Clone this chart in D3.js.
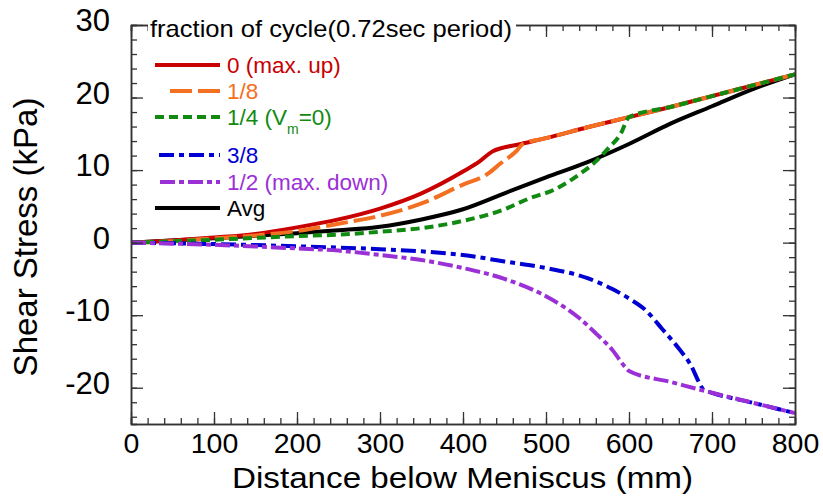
<!DOCTYPE html>
<html>
<head>
<meta charset="utf-8">
<script src="https://cdn.jsdelivr.net/npm/d3@7"></script>
<style>
  body { margin: 0; background: #fff; }
  svg { font-family: "Liberation Sans", Arial, sans-serif; }
</style>
</head>
<body>
<div id="chart"></div>
<script>
width = 823
height = 496

// distance below meniscus (mm) and shear stress (kPa), one pair per phase
var dist0  = [0, 50, 100, 150, 200, 250, 300, 350, 400, 420, 436, 470, 500, 550, 600, 650, 700, 750, 800]
var shear0 = [0, 0.3, 0.7, 1.2, 2.1, 3.2, 4.7, 6.8, 9.8, 11.2, 12.6, 13.6, 14.4, 15.9, 17.3, 18.7, 20.2, 21.7, 23.2]

var dist18  = [0, 50, 100, 150, 200, 250, 300, 350, 400, 430, 445, 465, 472, 500, 550, 600, 650, 700, 750, 800]
var shear18 = [0, 0.2, 0.6, 1.0, 1.6, 2.6, 3.7, 5.4, 8.0, 9.5, 10.9, 12.7, 13.6, 14.4, 15.9, 17.3, 18.7, 20.2, 21.7, 23.2]

var dist14  = [0, 100, 200, 250, 300, 350, 400, 450, 480, 510, 540, 560, 575, 590, 600, 650, 700, 750, 800]
var shear14 = [0, 0.4, 0.9, 1.1, 1.5, 2.0, 3.0, 4.6, 6.1, 7.3, 9.4, 11.2, 13.0, 15.0, 17.3, 18.7, 20.2, 21.7, 23.2]

var dist38  = [0, 100, 200, 300, 350, 400, 450, 500, 550, 580, 600, 620, 640, 660, 675, 685, 690, 700, 750, 800]
var shear38 = [0, -0.2, -0.5, -0.9, -1.2, -1.7, -2.6, -3.5, -4.9, -6.4, -7.7, -9.3, -11.9, -14.6, -17.0, -19.4, -20.3, -20.7, -22.1, -23.5]

var dist12  = [0, 100, 200, 250, 300, 350, 400, 450, 500, 540, 560, 580, 595, 600, 650, 700, 750, 800]
var shear12 = [0, -0.3, -0.8, -1.1, -1.7, -2.4, -3.5, -5.0, -7.4, -10.4, -12.5, -14.8, -17.1, -17.7, -19.2, -20.7, -22.1, -23.5]

var distAvg  = [0, 100, 200, 250, 300, 350, 400, 450, 500, 550, 600, 650, 700, 750, 800]
var shearAvg = [0, 0.6, 1.3, 1.7, 2.2, 3.2, 4.6, 6.8, 9.0, 11.1, 13.6, 16.4, 18.8, 21.2, 23.2]

var xTicks = [0, 100, 200, 300, 400, 500, 600, 700, 800]
var yTicks = [-20, -10, 0, 10, 20, 30]

var margin = {left: 131, top: 25, right: 28, bottom: 72}
var w = width - margin.left - margin.right
var h = height - margin.top - margin.bottom

let svg = d3.select("#chart")
  .append("svg")
  .attr("width", width)
  .attr("height", height)

var x = d3.scaleLinear().domain([0, 800]).range([0, w])
var y = d3.scaleLinear().domain([-25, 30]).range([h, 0])

var g = svg.append("g").attr("transform", `translate(${margin.left}, ${margin.top})`)

// series, drawn in this order so later ones sit on top
var series = [
  {name: "avg",  xs: distAvg, ys: shearAvg, color: "#000000", dash: null},
  {name: "0",    xs: dist0,   ys: shear0,   color: "#c80000", dash: null},
  {name: "1/8",  xs: dist18,  ys: shear18,  color: "#f36f21", dash: "22,6"},
  {name: "1/4",  xs: dist14,  ys: shear14,  color: "#118a11", dash: "9,5"},
  {name: "3/8",  xs: dist38,  ys: shear38,  color: "#0000d2", dash: "15,5,5,5"},
  {name: "1/2",  xs: dist12,  ys: shear12,  color: "#9b30d6", dash: "15,4,5,4"}
]

var line = d3.line()
  .x(d => x(d[0]))
  .y(d => y(d[1]))
  .curve(d3.curveMonotoneX)

for (s of series) {
  g.append("path")
    .datum(s.xs.map((v, i) => [v, s.ys[i]]))
    .attr("fill", "none")
    .attr("stroke", s.color)
    .attr("stroke-width", 4)
    .attr("stroke-dasharray", s.dash)
    .attr("d", line)
}

// axes: inward ticks on all four sides
var axisColor = "#333"
function minorVals(lo, hi, step) { return d3.range(lo, hi + 0.001, step) }

function styleAxis(sel) {
  sel.select(".domain").attr("stroke", axisColor).attr("stroke-width", 1.5)
  sel.selectAll(".tick line").attr("stroke", axisColor).attr("stroke-width", 1.3)
}

var fmt = d => String(d)

g.append("g").attr("transform", `translate(0, ${h})`)
  .call(d3.axisBottom(x).tickValues(minorVals(0, 800, 20)).tickSize(-6).tickFormat(""))
  .call(styleAxis)
g.append("g").attr("transform", `translate(0, ${h})`)
  .call(d3.axisBottom(x).tickValues(xTicks).tickSizeInner(-12).tickSizeOuter(0).tickPadding(9).tickFormat(fmt))
  .call(styleAxis)
  .selectAll("text").attr("font-size", 28.5).attr("fill", "#000").attr("font-family", "Liberation Sans, Arial")

g.append("g")
  .call(d3.axisTop(x).tickValues(minorVals(0, 800, 20)).tickSize(-6).tickFormat(""))
  .call(styleAxis)
g.append("g")
  .call(d3.axisTop(x).tickValues(xTicks).tickSizeInner(-12).tickSizeOuter(0).tickFormat(""))
  .call(styleAxis)

g.append("g")
  .call(d3.axisLeft(y).tickValues(minorVals(-24, 30, 2)).tickSize(-6).tickFormat(""))
  .call(styleAxis)
g.append("g")
  .call(d3.axisLeft(y).tickValues(yTicks).tickSizeInner(-12).tickSizeOuter(0).tickPadding(21).tickFormat(fmt))
  .call(styleAxis)
  .selectAll("text").attr("font-size", 31).attr("fill", "#000").attr("dy", "0.18em").attr("font-family", "Liberation Sans, Arial")

g.append("g").attr("transform", `translate(${w}, 0)`)
  .call(d3.axisRight(y).tickValues(minorVals(-24, 30, 2)).tickSize(-6).tickFormat(""))
  .call(styleAxis)
g.append("g").attr("transform", `translate(${w}, 0)`)
  .call(d3.axisRight(y).tickValues(yTicks).tickSizeInner(-12).tickSizeOuter(0).tickFormat(""))
  .call(styleAxis)

// axis titles
svg.append("text")
  .attr("x", 232).attr("y", 488)
  .attr("font-size", 30)
  .attr("textLength", 461).attr("lengthAdjust", "spacingAndGlyphs")
  .text("Distance below Meniscus (mm)")

svg.append("text")
  .attr("transform", "translate(37, 237) rotate(-90)")
  .attr("text-anchor", "middle")
  .attr("font-size", 33)
  .text("Shear Stress (kPa)")

// legend
var leg = svg.append("g")
leg.append("rect").attr("x", 148).attr("y", 14).attr("width", 368).attr("height", 26).attr("fill", "#fff")
leg.append("text")
  .attr("x", 150).attr("y", 37)
  .attr("font-size", 24)
  .attr("textLength", 362).attr("lengthAdjust", "spacingAndGlyphs")
  .text("fraction of cycle(0.72sec period)")

var legendRows = [
  {s: series[1], y: 65,  x0: 155, label: "0 (max. up)"},
  {s: series[2], y: 91,  x0: 170, label: "1/8"},
  {s: series[3], y: 117, x0: 155, label: "1/4 (V", sub: "m", after: "=0)"},
  {s: series[4], y: 155, x0: 159, label: "3/8"},
  {s: series[5], y: 182, x0: 160, label: "1/2 (max. down)"},
  {s: series[0], y: 208, x0: 155, label: "Avg"}
]

for (r of legendRows) {
  leg.append("line")
    .attr("x1", r.x0).attr("x2", 220)
    .attr("y1", r.y).attr("y2", r.y)
    .attr("stroke", r.s.color)
    .attr("stroke-width", 4)
    .attr("stroke-dasharray", r.s.dash)
  var t = leg.append("text")
    .attr("x", 227).attr("y", r.y + 8)
    .attr("font-size", 22.5)
    .attr("fill", r.s.color)
    .text(r.label)
  if (r.sub) {
    t.append("tspan").attr("font-size", 14).attr("dy", 9).text(r.sub)
    t.append("tspan").attr("dy", -9).text(r.after)
  }
}
</script>
</body>
</html>
